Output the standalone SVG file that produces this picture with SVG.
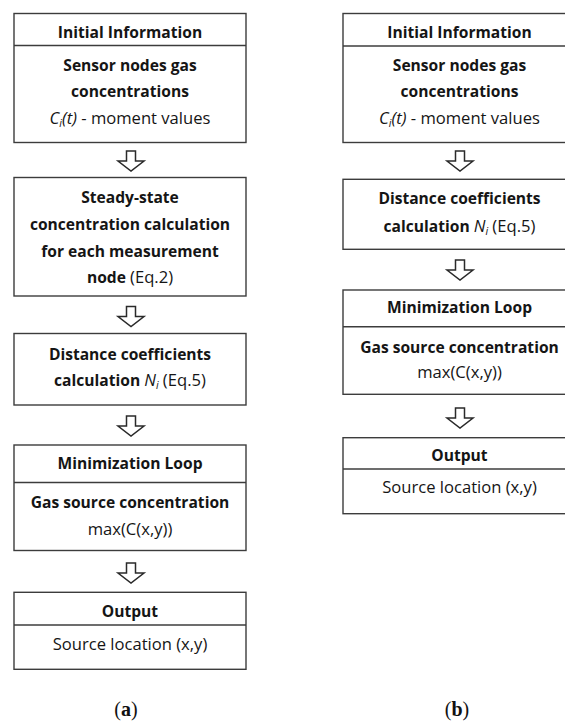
<svg xmlns="http://www.w3.org/2000/svg" width="565" height="722" viewBox="0 0 565 722">
<style>
.box{fill:#fff;stroke:#3c3c3c;stroke-width:1.4}
.div{stroke:#3c3c3c;stroke-width:1.4}
.t{font-family:"Open Sans",Lato,sans-serif;font-size:15.6px;fill:#151515;text-anchor:middle}
.b{font-weight:bold}
.r{font-weight:normal;font-size:16.6px}
.i{font-style:italic;font-weight:normal;font-size:16.6px}
.i.sub{font-size:10.5px}
.arr{fill:#fff;stroke:#2a2a2a;stroke-width:1.5;stroke-linejoin:miter}
.cap{font-family:"Liberation Serif","DejaVu Serif",serif;font-size:20px;fill:#111;text-anchor:middle}
</style>
<defs>
<polygon id="ar" points="-4.5,0 4.5,0 4.5,10 13,10 0,20 -13,10 -4.5,10"/>
</defs>

<g id="connectors">
<use href="#ar" class="arr" transform="translate(131,151)"/>
<use href="#ar" class="arr" transform="translate(131,306.5)"/>
<use href="#ar" class="arr" transform="translate(131,416)"/>
<use href="#ar" class="arr" transform="translate(131,563)"/>
<use href="#ar" class="arr" transform="translate(460,151)"/>
<use href="#ar" class="arr" transform="translate(460,260)"/>
<use href="#ar" class="arr" transform="translate(460,408)"/>
</g>

<!-- Panel (a) -->
<g id="a-initial">
<rect class="box" x="14" y="13.5" width="232" height="129"/>
<line class="div" x1="14" y1="45.5" x2="246" y2="45.5"/>
<text class="t b" x="130" y="37.7">Initial Information</text>
<text class="t b" x="130" y="70.7">Sensor nodes gas</text>
<text class="t b" x="130" y="96.7">concentrations</text>
<text class="t r" x="130" y="124"><tspan class="i">C</tspan><tspan class="i sub" dy="3">i</tspan><tspan class="i" dy="-3">(t)</tspan> - moment values</text>
</g>
<g id="a-steady">
<rect class="box" x="14" y="177.5" width="232" height="118.5"/>
<text class="t b" x="130" y="203.3">Steady-state</text>
<text class="t b" x="130" y="230">concentration calculation</text>
<text class="t b" x="130" y="256.7">for each measurement</text>
<text class="t b" x="130" y="283.3">node <tspan class="r">(Eq.2)</tspan></text>
</g>
<g id="a-distance">
<rect class="box" x="14" y="333.5" width="232" height="71.5"/>
<text class="t b" x="130" y="360">Distance coefficients</text>
<text class="t b" x="130" y="386">calculation <tspan class="i">N</tspan><tspan class="i sub" dy="3">i</tspan><tspan class="r" dy="-3"> (Eq.5)</tspan></text>
</g>
<g id="a-minimization">
<rect class="box" x="14" y="445" width="232" height="105.5"/>
<line class="div" x1="14" y1="482.5" x2="246" y2="482.5"/>
<text class="t b" x="130" y="469.3">Minimization Loop</text>
<text class="t b" x="130" y="508.3">Gas source concentration</text>
<text class="t r" x="130" y="535">max(C(x,y))</text>
</g>
<g id="a-output">
<rect class="box" x="14" y="592.3" width="232" height="77"/>
<line class="div" x1="14" y1="625" x2="246" y2="625"/>
<text class="t b" x="130" y="616.7">Output</text>
<text class="t r" x="130" y="650">Source location (x,y)</text>
</g>

<!-- Panel (b) -->
<g id="b-initial">
<rect class="box" x="343" y="13.5" width="233" height="129"/>
<line class="div" x1="343" y1="46" x2="576" y2="46"/>
<text class="t b" x="459.5" y="37.7">Initial Information</text>
<text class="t b" x="459.5" y="70.7">Sensor nodes gas</text>
<text class="t b" x="459.5" y="96.7">concentrations</text>
<text class="t r" x="459.5" y="124"><tspan class="i">C</tspan><tspan class="i sub" dy="3">i</tspan><tspan class="i" dy="-3">(t)</tspan> - moment values</text>
</g>
<g id="b-distance">
<rect class="box" x="343" y="179.3" width="233" height="70"/>
<text class="t b" x="459.5" y="204.3">Distance coefficients</text>
<text class="t b" x="459.5" y="231.7">calculation <tspan class="i">N</tspan><tspan class="i sub" dy="3">i</tspan><tspan class="r" dy="-3"> (Eq.5)</tspan></text>
</g>
<g id="b-minimization">
<rect class="box" x="343" y="290" width="233" height="104.3"/>
<line class="div" x1="343" y1="326.7" x2="576" y2="326.7"/>
<text class="t b" x="459.5" y="313.3">Minimization Loop</text>
<text class="t b" x="459.5" y="352.7">Gas source concentration</text>
<text class="t r" x="459.5" y="378.3">max(C(x,y))</text>
</g>
<g id="b-output">
<rect class="box" x="343" y="437.7" width="233" height="76"/>
<line class="div" x1="343" y1="469" x2="576" y2="469"/>
<text class="t b" x="459.5" y="460.7">Output</text>
<text class="t r" x="459.5" y="493.3">Source location (x,y)</text>
</g>

<text class="cap" x="126" y="716">(<tspan font-weight="bold">a</tspan>)</text>
<text class="cap" x="457" y="716">(<tspan font-weight="bold">b</tspan>)</text>
</svg>
